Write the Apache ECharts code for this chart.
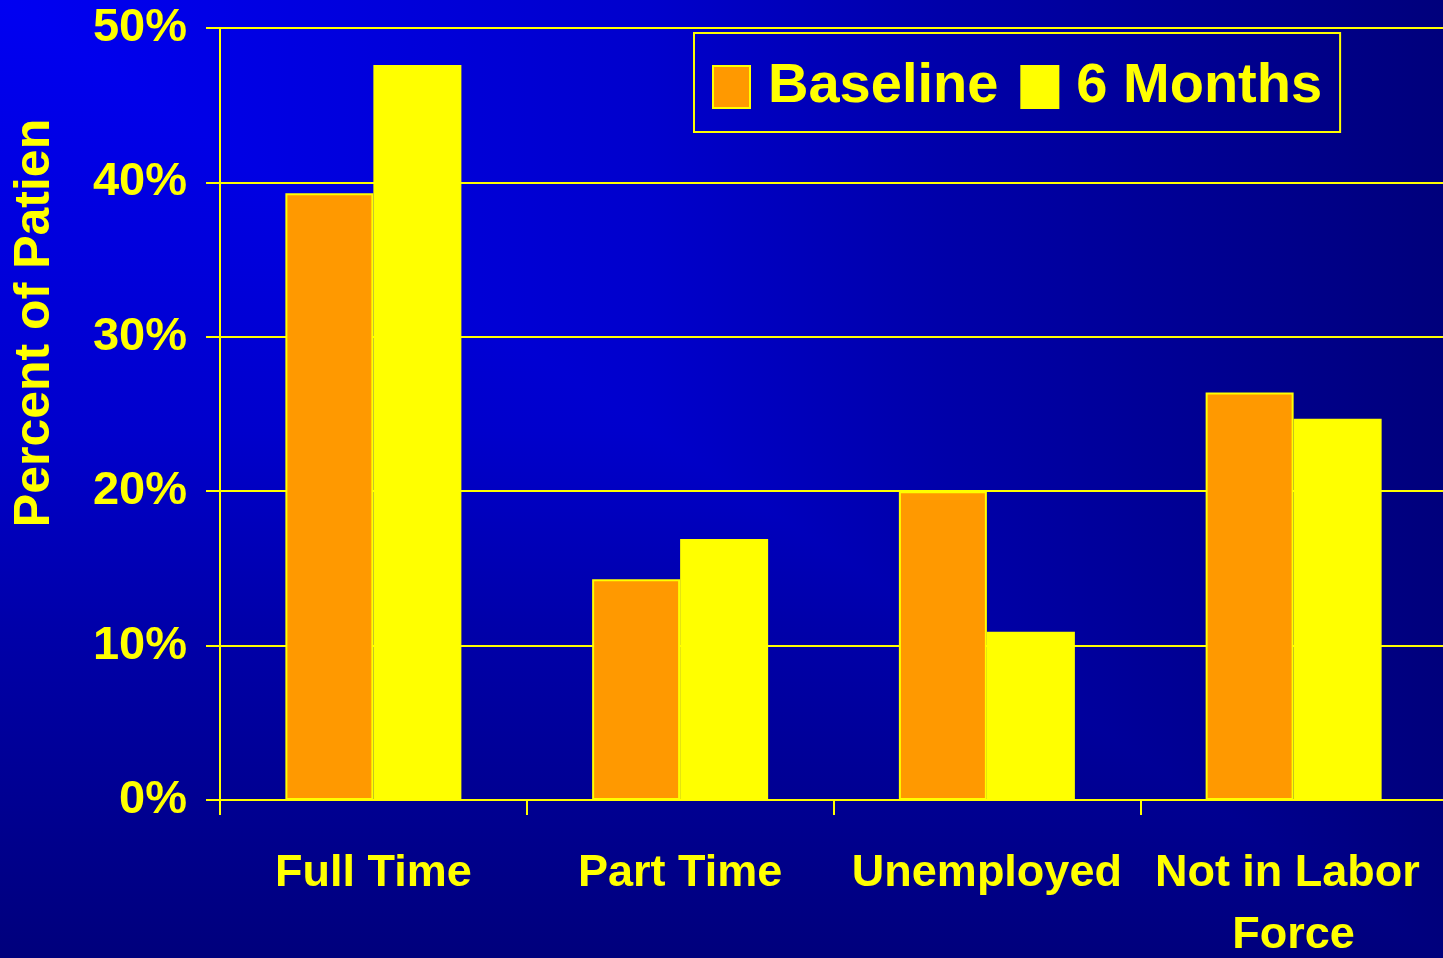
<!DOCTYPE html>
<html>
<head>
<meta charset="utf-8">
<title>Employment Status</title>
<script src="https://cdn.jsdelivr.net/npm/echarts@6/dist/echarts.min.js"></script>
<style>
  html, body { margin: 0; padding: 0; background: #00007c; }
  #chart { width: 1443px; height: 958px; }
</style>
</head>
<body>
<div id="chart"></div>
<script>
// Employment status of patients at baseline and at six months (percent)
const categories = ['Full Time', 'Part Time', 'Unemployed', 'Not in Labor Force'];
const baseline = [39.3, 14.3, 20.0, 26.4];
const sixMonths = [47.6, 16.9, 10.9, 24.7];
const seriesNames = ['Baseline', '6 Months'];
const axisTitle = 'Percent of Patien';

const YELLOW = '#FFFF00';
const ORANGE = '#FF9900';
const FONT = '"Liberation Sans", Arial, sans-serif';

// Corner-style backdrop: two gradients combined with "darken" so the
// brightness falls off with max(x/W, y/H) from the top-left corner.
const shadeStops = [
  { offset: 0, color: '#0000F2' },
  { offset: 0.45, color: '#0000CC' },
  { offset: 0.65, color: '#0000AA' },
  { offset: 1, color: '#00007C' }
];
const W = 1443, H = 958;

const chart = echarts.init(document.getElementById('chart'), null, { renderer: 'canvas' });

chart.setOption({
  backgroundColor: '#00007c',
  animation: false,
  graphic: [
    {
      type: 'rect', z: -20, silent: true,
      shape: { x: 0, y: 0, width: W, height: H },
      style: { fill: new echarts.graphic.LinearGradient(0, 0, 0, 1, shadeStops) }
    },
    {
      type: 'rect', z: -19, silent: true,
      shape: { x: 0, y: 0, width: W, height: H },
      style: { fill: new echarts.graphic.LinearGradient(0, 0, 1, 0, shadeStops), blend: 'darken' }
    },
    {
      type: 'text', z: 5, silent: true,
      x: 35, y: 323, rotation: Math.PI / 2,
      style: {
        text: axisTitle,
        fill: YELLOW,
        font: 'bold 50px ' + FONT,
        align: 'center',
        verticalAlign: 'middle'
      }
    }
  ],
  legend: {
    left: 694,
    top: 33,
    orient: 'horizontal',
    padding: [24, 18, 15, 18],
    borderColor: YELLOW,
    borderWidth: 2,
    itemWidth: 37,
    itemHeight: 42,
    itemGap: 22,
    icon: 'rect',
    data: seriesNames,
    textStyle: {
      color: YELLOW,
      fontFamily: FONT,
      fontWeight: 'bold',
      fontSize: 56,
      lineHeight: 60,
      padding: [0, 0, 0, 13]
    }
  },
  grid: {
    left: 220,
    right: -4,
    top: 28,
    bottom: 158,
    containLabel: false,
    outerBoundsMode: 'none'
  },
  xAxis: {
    type: 'category',
    data: categories,
    boundaryGap: true,
    axisLine: { lineStyle: { color: YELLOW, width: 2 } },
    axisTick: { show: true, alignWithLabel: false, length: 15, lineStyle: { color: YELLOW, width: 2 } },
    axisLabel: {
      color: YELLOW,
      fontFamily: FONT,
      fontWeight: 'bold',
      fontSize: 45,
      lineHeight: 62,
      margin: 43,
      width: 300,
      overflow: 'break',
      interval: 0
    },
    splitLine: { show: false }
  },
  yAxis: {
    type: 'value',
    min: 0,
    max: 50,
    interval: 10,
    axisLine: { show: true, lineStyle: { color: YELLOW, width: 2 } },
    axisTick: { show: true, length: 14, lineStyle: { color: YELLOW, width: 2 } },
    axisLabel: {
      color: YELLOW,
      fontFamily: FONT,
      fontWeight: 'bold',
      fontSize: 47,
      margin: 33,
      formatter: '{value}%'
    },
    splitLine: { show: true, lineStyle: { color: YELLOW, width: 2 } }
  },
  series: [
    {
      name: seriesNames[0],
      type: 'bar',
      data: baseline,
      barWidth: 88,
      barGap: '0%',
      itemStyle: { color: ORANGE, borderColor: YELLOW, borderWidth: 2 }
    },
    {
      name: seriesNames[1],
      type: 'bar',
      data: sixMonths,
      barWidth: 88,
      barGap: '0%',
      itemStyle: { color: YELLOW, borderColor: YELLOW, borderWidth: 2 }
    }
  ]
});
</script>
</body>
</html>
